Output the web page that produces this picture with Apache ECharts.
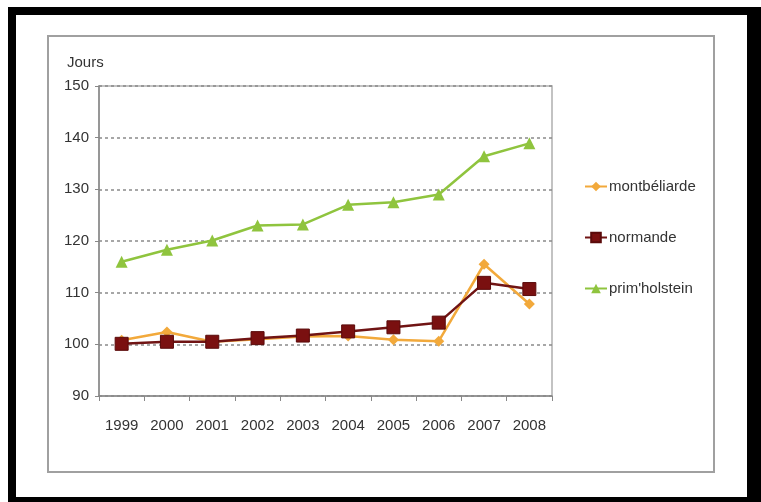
<!DOCTYPE html>
<html>
<head>
<meta charset="utf-8">
<script src="https://cdn.jsdelivr.net/npm/echarts@6/dist/echarts.min.js"></script>
<style>
html,body{margin:0;padding:0;background:#fff;}
#c{width:761px;height:502px;}
</style>
</head>
<body>
<div id="c"></div>
<script>
const years = ['1999','2000','2001','2002','2003','2004','2005','2006','2007','2008'];
const montbeliarde = [100.8, 102.4, 100.5, 101.0, 101.5, 101.6, 100.9, 100.6, 115.5, 107.8];
const normande = [100.1, 100.5, 100.5, 101.2, 101.7, 102.5, 103.3, 104.2, 111.9, 110.7];
const primholstein = [116.0, 118.3, 120.1, 123.0, 123.2, 127.0, 127.5, 129.0, 136.4, 138.9];
const yTicks = [90, 100, 110, 120, 130, 140, 150];

const chart = echarts.init(document.getElementById('c'), null, {renderer: 'canvas'});
const font = 'Liberation Sans, Arial, sans-serif';
chart.setOption({
  backgroundColor: '#fff',
  animation: false,
  title: {
    text: 'Jours', left: 62, top: 50,
    textStyle: {fontFamily: font, fontSize: 15, fontWeight: 'normal', color: '#333'}
  },
  graphic: [
    {type: 'rect', z: -20, shape: {x: 8, y: 7, width: 753, height: 495}, style: {fill: '#000'}},
    {type: 'rect', z: -19, shape: {x: 16, y: 15, width: 731, height: 482}, style: {fill: '#fff'}},
    {type: 'rect', z: -18, shape: {x: 48, y: 36, width: 666, height: 436}, style: {fill: 'none', stroke: '#a0a0a0', lineWidth: 2}}
  ],
  legend: {
    orient: 'vertical', left: 579, top: 174, itemGap: 36,
    itemWidth: 22, itemHeight: 12,
    textStyle: {fontFamily: font, fontSize: 15, color: '#333', padding: [0, 0, 0, -3]},
    data: ['montbéliarde', 'normande', "prim'holstein"]
  },
  grid: {
    left: 99, right: 209, top: 86, bottom: 106,
    show: true, borderColor: '#b0b0b0', borderWidth: 1.5, backgroundColor: 'transparent'
  },
  xAxis: {
    type: 'category', data: years, boundaryGap: true,
    axisLine: {lineStyle: {color: '#888', width: 1.5}},
    axisTick: {show: true, length: 5, lineStyle: {color: '#888'}},
    axisLabel: {fontFamily: font, fontSize: 15, color: '#333', margin: 22}
  },
  yAxis: {
    type: 'value', min: yTicks[0], max: yTicks[yTicks.length - 1], interval: 10,
    axisLine: {show: true, lineStyle: {color: '#888', width: 1.5}},
    axisTick: {show: true, length: 4, lineStyle: {color: '#888'}},
    axisLabel: {fontFamily: font, fontSize: 15, color: '#333', margin: 10},
    splitLine: {show: true, lineStyle: {color: '#8a8a8a', type: [3, 3], width: 1.5}}
  },
  series: [
    {
      name: 'montbéliarde', type: 'line', data: montbeliarde,
      symbol: 'diamond', symbolSize: 11,
      lineStyle: {color: '#f2a93b', width: 2.5},
      itemStyle: {color: '#f2a93b'}
    },
    {
      name: 'normande', type: 'line', data: normande,
      symbol: 'rect', symbolSize: 13,
      lineStyle: {color: '#701414', width: 2.5},
      itemStyle: {color: '#7a1010', borderColor: '#5a0a0a', borderWidth: 1}
    },
    {
      name: "prim'holstein", type: 'line', data: primholstein,
      symbol: 'triangle', symbolSize: 12,
      lineStyle: {color: '#8fc43e', width: 2.5},
      itemStyle: {color: '#8fc43e'}
    }
  ]
});
</script>
</body>
</html>
